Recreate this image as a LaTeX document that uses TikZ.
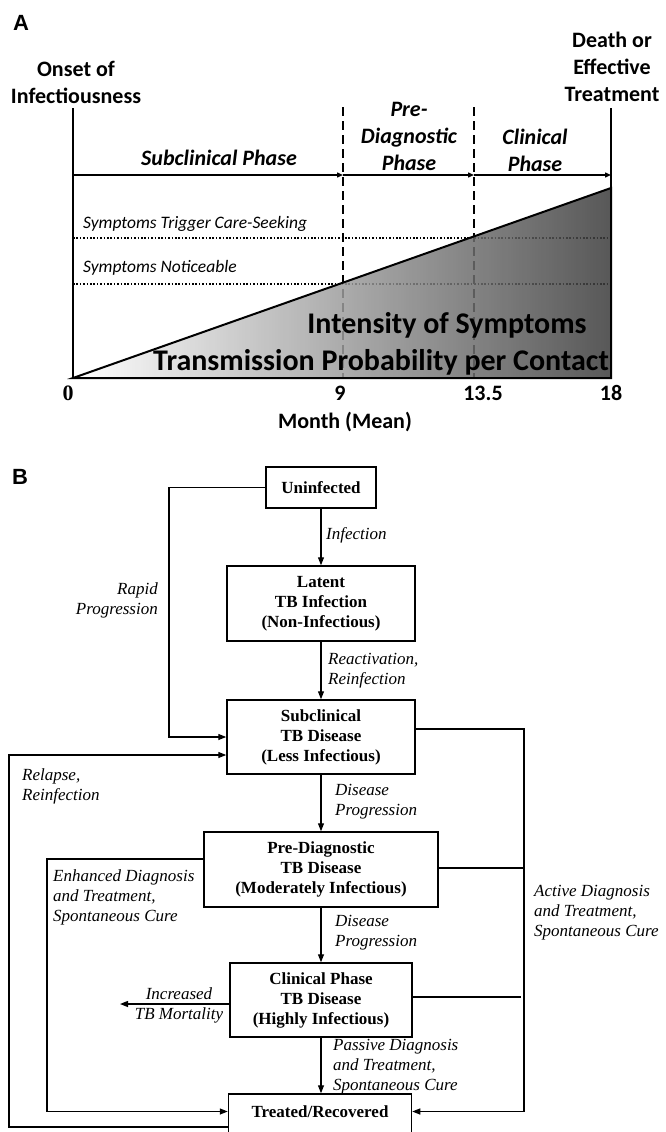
\documentclass[tikz,border=0pt]{standalone}
\usepackage{fontspec}
\setmainfont{Liberation Serif}
\newfontfamily\cfont{Carlito}
\newfontfamily\afont{Liberation Sans}
\usetikzlibrary{arrows.meta,calc}
\begin{document}
\begin{tikzpicture}[x=1pt,y=-1pt,
  panellbl/.style={font=\afont\bfseries\fontsize{22}{26}\selectfont, inner sep=0pt},
  ctext/.style={align=center, inner sep=0pt, font=\cfont\bfseries\fontsize{22}{27}\selectfont},
  phasetext/.style={align=center, inner sep=0pt, font=\cfont\bfseries\itshape\fontsize{22}{27}\selectfont},
  symtext/.style={anchor=west, inner sep=0pt, font=\cfont\itshape\fontsize{17.5}{20}\selectfont},
  bigtext/.style={inner sep=0pt, font=\cfont\bfseries\fontsize{30}{36}\selectfont},
  axlbl/.style={inner sep=0pt, font=\cfont\bfseries\fontsize{22}{26}\selectfont},
  thickline/.style={line width=2pt},
  phasearr/.style={line width=1.4pt, -{Triangle[length=6pt,width=5pt]}},
  dashv/.style={line width=1.8pt, dash pattern=on 9pt off 5pt},
  dotl/.style={line width=1.6pt, dash pattern=on 1.6pt off 1.8pt},
  boxB/.style={draw, line width=1.5pt, align=center, inner sep=0pt, font=\bfseries\fontsize{17}{20}\selectfont},
  lblB/.style={align=left, inner sep=0pt, font=\itshape\fontsize{17}{20}\selectfont},
  conB/.style={line width=1.3pt},
  arrB/.style={conB, -{Triangle[length=8pt,width=6pt]}}
]
\useasboundingbox (0,0) rectangle (665,1132);

% ---------------- Panel A ----------------
\node[panellbl] (lblA) at (21,23) {A};
\node[ctext] (onset) at (76,82) {Onset of\\Infectiousness};
\node[ctext] (death) at (612,67) {Death or\\Effective\\Treatment};

\coordinate (L0) at (73,108);
\coordinate (Lb) at (73,378);
\coordinate (R0) at (611,108);
\coordinate (Rb) at (611,378);
\coordinate (T) at (611,188);
\coordinate (D1t) at (343,107);
\coordinate (D1b) at (343,378);
\coordinate (D2t) at (474,107);
\coordinate (D2b) at (474,378);
\coordinate (P0) at (73,175);
\coordinate (P1) at (343,175);
\coordinate (P2) at (474,175);
\coordinate (P3) at (611,175);
\coordinate (S1a) at (73,238);
\coordinate (S1b) at (611,238);
\coordinate (S2a) at (73,284);
\coordinate (S2b) at (611,284);

% dashed and dotted lines (under the shading)
\draw[dashv] (D1t) -- (D1b);
\draw[dashv] (D2t) -- (D2b);
\draw[dotl] (S1a) -- (S1b);
\draw[dotl] (S2a) -- (S2b);

% shaded triangle
\shade[left color=white, middle color=black!25, right color=black!77, opacity=0.85]
  (Lb) -- (T) -- (Rb) -- cycle;
\draw[thickline, line join=miter] (Lb) -- (T) -- (Rb) -- cycle;

% verticals
\draw[thickline] (L0) -- (Lb);
\draw[thickline] (R0) -- (Rb);

% phase arrows
\draw[phasearr] (P0) -- (P1);
\draw[phasearr] (P1) -- (P2);
\draw[phasearr] (P2) -- (P3);

\node[phasetext] (subph) at (219,158) {Subclinical Phase};
\node[phasetext] (preph) at (409,136) {Pre-\\Diagnostic\\Phase};
\node[phasetext] (clph) at (535,150) {Clinical\\Phase};

\node[symtext] (sym1) at (83,224) {Symptoms Trigger Care-Seeking};
\node[symtext] (sym2) at (83,268) {Symptoms Noticeable};

\node[bigtext] (intens) at (447,325) {Intensity of Symptoms};
\node[bigtext] (transm) at (381,362) {Transmission Probability per Contact};

\node[inner sep=0pt, font=\bfseries\fontsize{22}{26}\selectfont] (ax0) at (68,393) {0};
\node[axlbl] (ax9) at (340,393) {9};
\node[axlbl] (ax135) at (483,393) {13.5};
\node[axlbl] (ax18) at (611,393) {18};
\node[axlbl] (month) at (345,422) {Month (Mean)};

% ---------------- Panel B ----------------
\node[panellbl] (lblB) at (20,477) {B};

\node[boxB, minimum width=110pt, minimum height=41pt] (unin) at (321,487.5) {Uninfected};
\node[boxB, minimum width=188pt, minimum height=75pt] (latent) at (321,603.5) {Latent\\TB Infection\\(Non-Infectious)};
\node[boxB, minimum width=188pt, minimum height=74pt] (subc) at (321,737) {Subclinical\\TB Disease\\(Less Infectious)};
\node[boxB, minimum width=234pt, minimum height=75pt] (prediag) at (321,869.5) {Pre-Diagnostic\\TB Disease\\(Moderately Infectious)};
\node[boxB, minimum width=182pt, minimum height=74pt] (clin) at (321,1000) {Clinical Phase\\TB Disease\\(Highly Infectious)};
\node[draw, line width=1.5pt, minimum width=183pt, minimum height=51pt, inner sep=0pt] (treated) at (320,1119.5) {};
\node[inner sep=0pt, font=\bfseries\fontsize{17}{20}\selectfont] (treatedtxt) at (320,1112) {Treated/Recovered};

% vertical progression arrows
\draw[arrB] (unin.south) -- (latent.north);
\draw[arrB] (latent.south) -- (subc.north);
\draw[arrB] (subc.south) -- (prediag.north);
\draw[arrB] (prediag.south) -- (clin.north);
\draw[arrB] (clin.south) -- (clin.south |- treated.north);

% rapid progression
\coordinate (rp) at (169,487.5);
\draw[arrB] (unin.west) -- (rp) |- (subc.west);

% relapse
\coordinate (rl) at (9,1127);
\draw[arrB] ($(treated.west)+(0,7.5)$) -- (rl) |- ($(subc.west)+(0,18)$);

% enhanced diagnosis
\coordinate (en) at (47,859);
\draw[arrB] ($(prediag.west)+(0,-10.5)$) -- (en) |- ($(treated.west)+(0,-8)$);

% active diagnosis (right side)
\coordinate (rt) at (524,729);
\draw[arrB] ($(subc.east)+(0,-8)$) -- (rt) |- ($(treated.east)+(0,-8)$);
\coordinate (rt2) at (524,868);
\draw[conB] ($(prediag.east)+(0,-1.5)$) -- (rt2);
\coordinate (rt3) at (521,997);
\draw[conB] ($(clin.east)+(0,-3)$) -- (rt3);

% mortality
\coordinate (mort) at (120,1004);
\draw[arrB] ($(clin.west)+(0,4)$) -- (mort);

% labels
\node[lblB, anchor=west] (linf) at (326,535) {Infection};
\node[lblB, anchor=west] (lreact) at (328,671) {Reactivation,\\Reinfection};
\node[lblB, anchor=east, align=right] (lrapid) at (158,600) {Rapid\\Progression};
\node[lblB, anchor=west] (lrelapse) at (22,786.5) {Relapse,\\Reinfection};
\node[lblB, anchor=west] (ldp1) at (335,802) {Disease\\Progression};
\node[lblB, anchor=west] (lenh) at (53,897) {Enhanced Diagnosis\\and Treatment,\\Spontaneous Cure};
\node[lblB, anchor=west] (ldp2) at (335,933) {Disease\\Progression};
\node[lblB, anchor=west] (lact) at (534,913) {Active Diagnosis\\and Treatment,\\Spontaneous Cure};
\node[lblB, align=center] (lmort) at (179,1005) {Increased\\TB Mortality};
\node[lblB, anchor=west] (lpass) at (333,1067) {Passive Diagnosis\\and Treatment,\\Spontaneous Cure};
\end{tikzpicture}
\end{document}
